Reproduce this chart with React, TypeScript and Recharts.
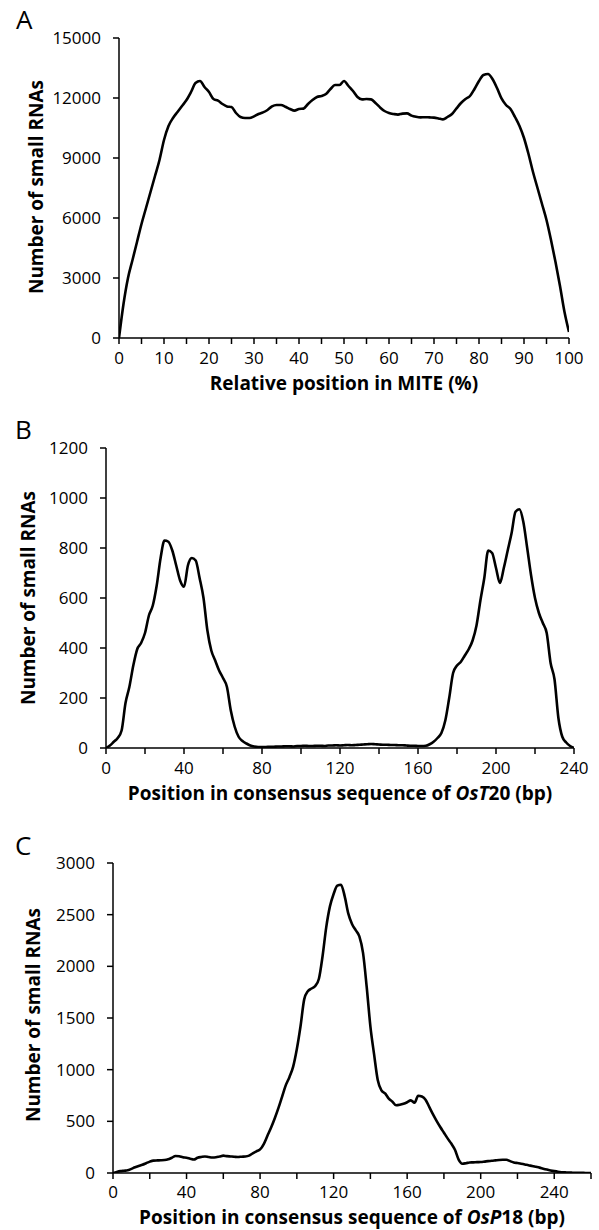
import React from 'react';
import { LineChart, Line, XAxis, YAxis } from 'recharts';

const FONT = '"Open Sans", "DejaVu Sans", sans-serif';

// ---------- Panel A: relative position in MITE (%) ----------
const aPositions = [
  0, 1, 2, 3, 4, 5, 6, 7, 8, 9, 10, 11, 12, 13, 14, 15, 16, 17, 18, 19, 20,
  21, 22, 23, 24, 25, 26, 27, 28, 29, 30, 31, 32, 33, 34, 35, 36, 37, 38, 39, 40,
  41, 42, 43, 44, 45, 46, 47, 48, 49, 50, 51, 52, 53, 54, 55, 56, 57, 58, 59, 60,
  61, 62, 63, 64, 65, 66, 67, 68, 69, 70, 71, 72, 73, 74, 75, 76, 77, 78, 79, 80,
  81, 82, 83, 84, 85, 86, 87, 88, 89, 90, 91, 92, 93, 94, 95, 96, 97, 98, 99, 100,
];
const aCounts = [
  0, 1700, 3000, 3900, 4800, 5700, 6500, 7300, 8100, 8900, 9900,
  10600, 11000, 11300, 11600, 11900, 12300, 12750, 12850, 12550, 12300,
  11950, 11870, 11700, 11580, 11550, 11250, 11050, 11000, 11000, 11080,
  11200, 11280, 11400, 11580, 11650, 11650, 11560, 11450, 11370, 11450,
  11470, 11700, 11900, 12050, 12100, 12200, 12450, 12650, 12650, 12850,
  12600, 12350, 12050, 11930, 11950, 11930, 11750, 11530, 11350, 11250,
  11200, 11170, 11220, 11230, 11120, 11060, 11030, 11040, 11030, 11020,
  10980, 10930, 11050, 11200, 11480, 11750, 11950, 12100, 12450, 12850,
  13150, 13200, 12950, 12500, 11980, 11650, 11450, 11050, 10600, 10000,
  9200, 8300, 7500, 6700, 5900, 4900, 3800, 2600, 1300, 300,
];
const aXTicks = [0, 5, 10, 15, 20, 25, 30, 35, 40, 45, 50, 55, 60, 65, 70, 75, 80, 85, 90, 95, 100];
const aXLabels = [0, 10, 20, 30, 40, 50, 60, 70, 80, 90, 100];
const aYTicks = [0, 3000, 6000, 9000, 12000, 15000];

// ---------- Panel B: OsT20 consensus (bp) ----------
const bPositions = [
  0, 2, 4, 6, 8, 10, 12, 14, 16, 18, 20, 22, 24, 26, 28, 30, 32, 34, 36, 38, 40,
  42, 44, 46, 48, 50, 52, 54, 56, 58, 60, 62, 64, 66, 68, 70, 72, 74, 76, 78, 80,
  82, 84, 86, 88, 90, 92, 94, 96, 98, 100, 102, 104, 106, 108, 110, 112, 114, 116, 118, 120,
  122, 124, 126, 128, 130, 132, 134, 136, 138, 140, 142, 144, 146, 148, 150, 152, 154, 156, 158, 160,
  162, 164, 166, 168, 170, 172, 174, 176, 178, 180, 182, 184, 186, 188, 190, 192, 194, 196, 198, 200,
  202, 204, 206, 208, 210, 212, 214, 216, 218, 220, 222, 224, 226, 228, 230, 232, 234, 236, 238, 240,
];
const bCounts = [
  0, 10, 25, 40, 70, 180, 245, 330, 395, 420, 460,
  530, 570, 650, 760, 830, 825, 790, 730, 670, 645,
  730, 760, 750, 680, 600, 470, 390, 350, 310, 280,
  245, 150, 85, 45, 28, 18, 10, 6, 4, 4,
  4, 5, 5, 6, 6, 7, 7, 6, 8, 8,
  9, 8, 8, 9, 9, 8, 10, 10, 11, 10,
  11, 12, 11, 12, 13, 14, 15, 16, 15, 14,
  13, 13, 12, 12, 11, 11, 10, 9, 9, 8,
  8, 9, 15, 25, 40, 60, 110, 200, 300, 330,
  345, 370, 395, 430, 490, 590, 680, 790, 780, 720,
  660, 720, 790, 860, 945, 955, 905, 800, 690, 600,
  540, 500, 460, 340, 275, 120, 45, 22, 8, 1,
];
const bXTicks = [0, 20, 40, 60, 80, 100, 120, 140, 160, 180, 200, 220, 240];
const bXLabels = [0, 40, 80, 120, 160, 200, 240];
const bYTicks = [0, 200, 400, 600, 800, 1000, 1200];

// ---------- Panel C: OsP18 consensus (bp) ----------
const cPositions = [
  0, 2, 4, 6, 8, 10, 12, 14, 16, 18, 20, 22, 24, 26, 28, 30, 32, 34, 36, 38, 40,
  42, 44, 46, 48, 50, 52, 54, 56, 58, 60, 62, 64, 66, 68, 70, 72, 74, 76, 78, 80,
  82, 84, 86, 88, 90, 92, 94, 96, 98, 100, 102, 104, 106, 108, 110, 112, 114, 116, 118, 120,
  122, 124, 126, 128, 130, 132, 134, 136, 138, 140, 142, 144, 146, 148, 150, 152, 154, 156, 158, 160,
  162, 164, 166, 168, 170, 172, 174, 176, 178, 180, 182, 184, 186, 188, 190, 192, 194, 196, 198, 200,
  202, 204, 206, 208, 210, 212, 214, 216, 218, 220, 222, 224, 226, 228, 230, 232, 234, 236, 238, 240,
  242, 244, 246, 248, 250, 252, 254, 256, 258, 260,
];
const cCounts = [
  0, 10, 18, 22, 26, 40, 55, 68, 80, 95, 110,
  120, 122, 123, 125, 132, 148, 165, 162, 152, 148,
  138, 130, 148, 155, 160, 155, 150, 152, 160, 168,
  163, 160, 157, 155, 158, 160, 168, 190, 210, 228,
  280, 360, 440, 530, 630, 740, 850, 930, 1030, 1200,
  1420, 1680, 1760, 1785, 1810, 1880, 2100, 2380, 2580, 2700,
  2780, 2790, 2680, 2510, 2410, 2350, 2290, 2130, 1800, 1420,
  1150, 900, 800, 770, 720, 690, 655, 660, 670, 685,
  703, 680, 748, 740, 710, 640, 570, 505, 445, 390,
  335, 285, 225, 130, 90, 95, 102, 103, 105, 106,
  110, 115, 118, 122, 126, 128, 128, 115, 102, 96,
  90, 83, 75, 68, 60, 52, 42, 33, 25, 18,
  12, 8, 6, 4, 3, 2, 1, 1, 0, 0,
];
const cXTicks = [0, 20, 40, 60, 80, 100, 120, 140, 160, 180, 200, 220, 240, 260];
const cXLabels = [0, 40, 80, 120, 160, 200, 240];
const cYTicks = [0, 500, 1000, 1500, 2000, 2500, 3000];

const zip = (xs: number[], ys: number[]) => xs.map((x, i) => ({ x, y: ys[i] }));

type PanelProps = {
  top: number;
  height: number;
  data: { x: number; y: number }[];
  xDomain: [number, number];
  xTicks: number[];
  xLabels: number[];
  yDomain: [number, number];
  yTicks: number[];
  plotLeft: number;
  plotRight: number;
  plotTop: number;
  plotBottom: number;
  xTickMargin: number;
  yTickMargin: number;
};

const tickStyle = { fill: '#000', fontSize: 17, fontFamily: FONT };

function Panel(p: PanelProps) {
  const width = 599;
  const xAxisHeight = 30;
  return (
    <div style={{ position: 'absolute', left: 0, top: p.top, width, height: p.height }}>
      <LineChart
        width={width}
        height={p.height}
        data={p.data}
        margin={{
          top: p.plotTop,
          right: width - p.plotRight,
          left: 0,
          bottom: p.height - p.plotBottom - xAxisHeight,
        }}
      >
        <XAxis
          type="number"
          dataKey="x"
          domain={p.xDomain}
          ticks={p.xTicks}
          interval={0}
          allowDataOverflow
          tickFormatter={(v: number) => (p.xLabels.includes(v) ? String(v) : '')}
          tick={tickStyle}
          tickSize={6}
          tickMargin={p.xTickMargin}
          height={xAxisHeight}
          axisLine={{ stroke: '#000', strokeWidth: 1.5 }}
          tickLine={{ stroke: '#000', strokeWidth: 1.5 }}
        />
        <YAxis
          type="number"
          domain={p.yDomain}
          ticks={p.yTicks}
          interval={0}
          allowDataOverflow
          tick={tickStyle}
          tickSize={6}
          tickMargin={p.yTickMargin}
          width={p.plotLeft}
          axisLine={{ stroke: '#000', strokeWidth: 1.5 }}
          tickLine={{ stroke: '#000', strokeWidth: 1.5 }}
        />
        <Line
          type="monotone"
          dataKey="y"
          stroke="#000"
          strokeWidth={2.6}
          dot={false}
          isAnimationActive={false}
        />
      </LineChart>
    </div>
  );
}

const titleStyle: React.CSSProperties = { fontFamily: FONT, fontWeight: 700, fontSize: 19 };
const letterStyle: React.CSSProperties = { fontFamily: FONT, fontSize: 26 };

export default function App() {
  return (
    <div style={{ position: 'absolute', left: 0, top: 0, width: 599, height: 1230, background: '#fff' }}>
      <Panel
        top={0}
        height={400}
        data={zip(aPositions, aCounts)}
        xDomain={[0, 100]}
        xTicks={aXTicks}
        xLabels={aXLabels}
        yDomain={[0, 15000]}
        yTicks={aYTicks}
        plotLeft={119}
        plotRight={569}
        plotTop={38}
        plotBottom={338}
        xTickMargin={8}
        yTickMargin={12}
      />
      <Panel
        top={400}
        height={420}
        data={zip(bPositions, bCounts)}
        xDomain={[0, 240]}
        xTicks={bXTicks}
        xLabels={bXLabels}
        yDomain={[0, 1200]}
        yTicks={bYTicks}
        plotLeft={106}
        plotRight={574}
        plotTop={48}
        plotBottom={348}
        xTickMargin={8}
        yTickMargin={12}
      />
      <Panel
        top={820}
        height={410}
        data={zip(cPositions, cCounts)}
        xDomain={[0, 260]}
        xTicks={cXTicks}
        xLabels={cXLabels}
        yDomain={[0, 3000]}
        yTicks={cYTicks}
        plotLeft={113}
        plotRight={591}
        plotTop={43}
        plotBottom={353}
        xTickMargin={7}
        yTickMargin={12}
      />
      <svg
        width={599}
        height={1230}
        style={{ position: 'absolute', left: 0, top: 0, pointerEvents: 'none' }}
      >
        <text x={16} y={29} style={letterStyle}>A</text>
        <text x={15} y={439} style={letterStyle}>B</text>
        <text x={15} y={855} style={letterStyle}>C</text>

        <text transform="translate(43,187) rotate(-90)" textAnchor="middle" style={titleStyle}>
          Number of small RNAs
        </text>
        <text transform="translate(35,598) rotate(-90)" textAnchor="middle" style={titleStyle}>
          Number of small RNAs
        </text>
        <text transform="translate(40,1015) rotate(-90)" textAnchor="middle" style={titleStyle}>
          Number of small RNAs
        </text>

        <text x={344} y={390} textAnchor="middle" style={titleStyle}>
          Relative position in MITE (%)
        </text>
        <text x={340} y={800} textAnchor="middle" style={titleStyle}>
          Position in consensus sequence of <tspan fontStyle="italic">OsT</tspan>20 (bp)
        </text>
        <text x={352} y={1224} textAnchor="middle" style={titleStyle}>
          Position in consensus sequence of <tspan fontStyle="italic">OsP</tspan>18 (bp)
        </text>
      </svg>
    </div>
  );
}
